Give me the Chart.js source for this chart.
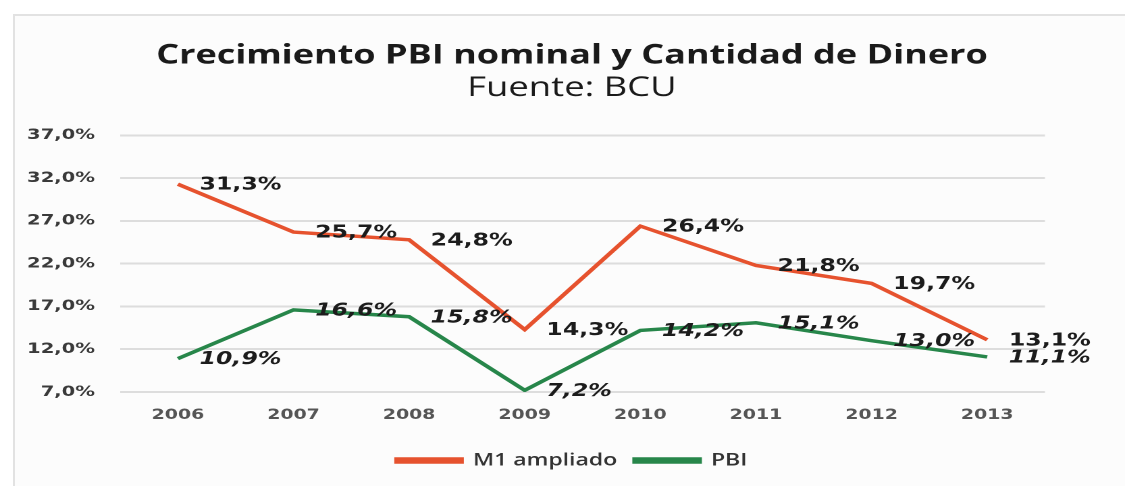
<!DOCTYPE html>
<html>
<head>
<meta charset="utf-8">
<script src="https://cdn.jsdelivr.net/npm/chart.js@4/dist/chart.umd.min.js"></script>
<style>
  body { margin: 0; background: #fff; overflow: hidden; }
  .frame {
    position: absolute; left: 13px; top: 14px; width: 1120px; height: 480px;
    border-top: 2px solid #e2e2e2; border-left: 2px solid #e2e2e2;
    background: #fcfcfc;
  }
  /* el grafico original esta estirado a lo ancho */
  #linechart {
    position: absolute; left: 0; top: 0;
    transform: scaleX(1.3505); transform-origin: 0 0;
  }
</style>
</head>
<body>
<div class="frame"></div>
<canvas id="linechart" width="833" height="486"></canvas>
<script>
var years = ["2006", "2007", "2008", "2009", "2010", "2011", "2012", "2013"];
var m1_ampliado = [31.3, 25.7, 24.8, 14.3, 26.4, 21.8, 19.7, 13.1];
var pbi = [10.9, 16.6, 15.8, 7.2, 14.2, 15.1, 13.0, 11.1];
var y_min = 7, y_max = 37, y_step = 5;

function pct(v) {
  return v.toFixed(1).replace(".", ",") + "%";
}

// etiquetas de valor a la derecha de cada punto
var value_labels = {
  id: "value_labels",
  afterDatasetsDraw: function (chart) {
    var ctx = chart.ctx;
    ctx.save();
    ctx.fillStyle = "#1c1c1c";
    ctx.textAlign = "left";
    ctx.textBaseline = "middle";
    chart.data.datasets.forEach(function (ds, i) {
      var meta = chart.getDatasetMeta(i);
      ctx.font = (i == 1 ? "italic " : "") + "bold 17.5px 'DejaVu Sans'";
      meta.data.forEach(function (pt, j) {
        ctx.fillText(pct(ds.data[j]), pt.x + 16, pt.y + 1);
      });
    });
    ctx.restore();
  }
};

var chart1 = document.getElementById("linechart");
var myChart1 = new Chart(chart1, {
  type: "line",
  data: {
    labels: years,
    datasets: [
      {
        label: "M1 ampliado",
        data: m1_ampliado,
        borderColor: "#e6522e",
        backgroundColor: "#e6522e",
        borderWidth: 3.5,
        pointRadius: 0,
        tension: 0
      },
      {
        label: "PBI",
        data: pbi,
        borderColor: "#27864a",
        backgroundColor: "#27864a",
        borderWidth: 3.5,
        pointRadius: 0,
        tension: 0
      }
    ]
  },
  options: {
    responsive: false,
    animation: false,
    devicePixelRatio: 2,
    layout: { padding: { left: 14, right: 0, top: 0, bottom: 7 } },
    scales: {
      x: {
        offset: true,
        grid: { display: false, drawTicks: false },
        border: { display: false },
        ticks: {
          padding: 15.1,
          color: "#555",
          font: { family: "'DejaVu Sans'", size: 14, weight: "bold" }
        }
      },
      y: {
        min: y_min,
        max: y_max,
        afterFit: function (scale) { scale.width = 74.9; },
        grid: { color: "#dddddd", lineWidth: 2, drawTicks: false },
        border: { display: false },
        ticks: {
          stepSize: y_step,
          padding: 18.6,
          color: "#3a3a3a",
          font: { family: "'DejaVu Sans'", size: 14.5, weight: "bold" },
          callback: function (v) { return pct(v); }
        }
      },
      // eje vacio a la derecha, solo deja el margen
      y_right: {
        position: "right",
        min: y_min,
        max: y_max,
        afterFit: function (scale) { scale.width = 59.2; },
        grid: { display: false, drawTicks: false },
        border: { display: false },
        ticks: { display: false }
      }
    },
    plugins: {
      title: {
        display: true,
        text: "Crecimiento PBI nominal y Cantidad de Dinero",
        color: "#1a1a1a",
        font: { family: "'Open Sans'", size: 26.7, weight: "bold", lineHeight: 1.2 },
        padding: { top: 40, bottom: 0 }
      },
      subtitle: {
        display: true,
        text: "Fuente: BCU",
        color: "#1a1a1a",
        font: { family: "'Open Sans'", size: 27, weight: "normal", lineHeight: 1.2 },
        padding: { top: 0, bottom: 31 }
      },
      legend: {
        display: true,
        position: "bottom",
        labels: {
          boxWidth: 48,
          boxHeight: 3,
          padding: 13,
          color: "#333",
          font: { family: "'Open Sans'", size: 17, weight: "600" }
        }
      },
      tooltip: { enabled: false }
    }
  },
  plugins: [value_labels]
});
</script>
</body>
</html>
